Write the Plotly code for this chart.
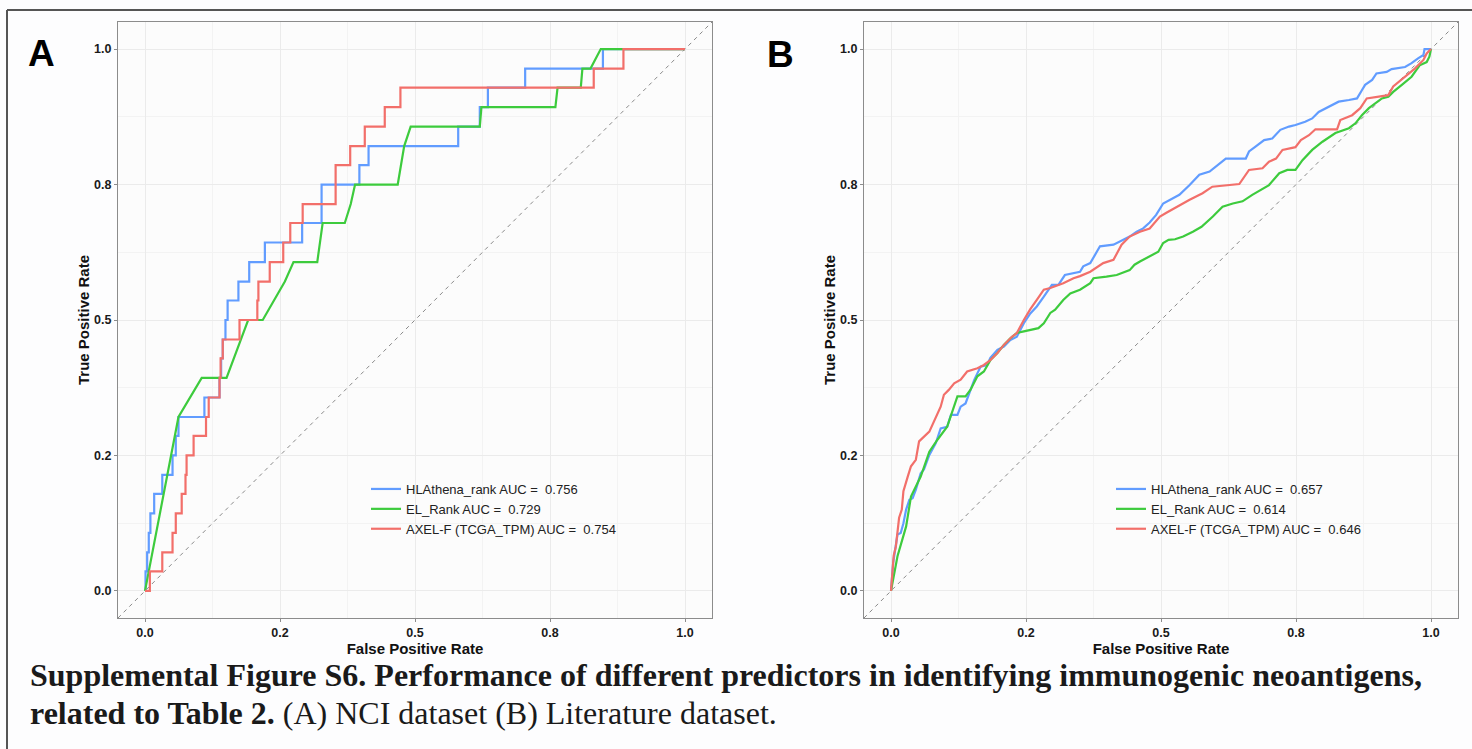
import plotly.graph_objects as go

# ---------------- data ----------------
series_names = ["HLAthena_rank", "EL_Rank", "AXEL-F (TCGA_TPM)"]
auc_a = ["0.756", "0.729", "0.754"]
auc_b = ["0.657", "0.614", "0.646"]
colors = ["#619CFF", "#3DCB3D", "#F26F6A"]

tick_vals = [0, 0.25, 0.5, 0.75, 1.0]
tick_text = ["0.0", "0.2", "0.5", "0.8", "1.0"]

# Panel A (NCI dataset)
A_hla_fpr = [0, 0.001, 0.004, 0.007, 0.010, 0.017, 0.032, 0.051, 0.057, 0.062, 0.110, 0.138, 0.141, 0.144,
             0.149, 0.153, 0.173, 0.193, 0.222, 0.291, 0.327, 0.397, 0.414, 0.580, 0.620, 0.635, 0.704, 0.848, 1.0]
A_hla_tpr = [0, 0.036, 0.071, 0.107, 0.143, 0.179, 0.214, 0.250, 0.286, 0.321, 0.357, 0.393, 0.429, 0.464,
             0.500, 0.536, 0.571, 0.607, 0.643, 0.679, 0.750, 0.786, 0.821, 0.857, 0.893, 0.929, 0.964, 1.0, 1.0]

A_el_fpr = [0, 0.062, 0.105, 0.151, 0.191, 0.218, 0.259, 0.275, 0.319, 0.329, 0.370, 0.381, 0.389, 0.468,
            0.480, 0.492, 0.620, 0.623, 0.760, 0.764, 0.807, 0.810, 0.825, 0.844, 1.0]
A_el_tpr = [0, 0.321, 0.393, 0.393, 0.500, 0.500, 0.571, 0.607, 0.607, 0.679, 0.679, 0.714, 0.750, 0.750,
            0.821, 0.857, 0.857, 0.893, 0.893, 0.929, 0.929, 0.964, 0.964, 1.0, 1.0]

A_axel_fpr = [0, 0.009, 0.032, 0.051, 0.057, 0.068, 0.075, 0.077, 0.090, 0.113, 0.118, 0.138, 0.140, 0.144,
              0.175, 0.208, 0.210, 0.231, 0.256, 0.269, 0.292, 0.353, 0.380, 0.407, 0.444, 0.473, 0.831, 0.886, 1.0]
A_axel_tpr = [0, 0.036, 0.071, 0.107, 0.143, 0.179, 0.214, 0.250, 0.286, 0.321, 0.357, 0.393, 0.429, 0.464,
              0.500, 0.536, 0.571, 0.607, 0.643, 0.679, 0.714, 0.786, 0.821, 0.857, 0.893, 0.929, 0.964, 1.0, 1.0]

# Panel B (Literature dataset)
B_hla_fpr = [0, 0.004, 0.012, 0.018, 0.023, 0.028, 0.034, 0.040, 0.046, 0.055,
             0.061, 0.071, 0.083, 0.092, 0.104, 0.111, 0.123, 0.129, 0.138, 0.144,
             0.154, 0.166, 0.178, 0.184, 0.197, 0.209, 0.221, 0.233, 0.246, 0.258,
             0.270, 0.283, 0.298, 0.310, 0.322, 0.350, 0.356, 0.369, 0.381, 0.387,
             0.412, 0.424, 0.433, 0.442, 0.455, 0.467, 0.479, 0.491, 0.504, 0.516,
             0.534, 0.553, 0.571, 0.590, 0.602, 0.620, 0.657, 0.663, 0.675, 0.691,
             0.706, 0.721, 0.737, 0.749, 0.767, 0.780, 0.792, 0.810, 0.829, 0.848,
             0.863, 0.872, 0.878, 0.891, 0.899, 0.918, 0.927, 0.952, 0.964, 0.976,
             0.986, 0.988, 1.0]
B_hla_tpr = [0, 0.052, 0.104, 0.107, 0.125, 0.150, 0.168, 0.171, 0.187, 0.217,
             0.224, 0.251, 0.273, 0.300, 0.303, 0.325, 0.325, 0.340, 0.346, 0.362,
             0.389, 0.414, 0.417, 0.430, 0.445, 0.451, 0.463, 0.469, 0.494, 0.512,
             0.525, 0.543, 0.565, 0.565, 0.583, 0.589, 0.599, 0.605, 0.626, 0.636,
             0.639, 0.645, 0.648, 0.654, 0.663, 0.669, 0.680, 0.694, 0.715, 0.722,
             0.731, 0.749, 0.768, 0.774, 0.783, 0.798, 0.798, 0.811, 0.820, 0.832,
             0.835, 0.851, 0.857, 0.860, 0.866, 0.872, 0.884, 0.894, 0.903, 0.906,
             0.909, 0.924, 0.934, 0.943, 0.955, 0.958, 0.963, 0.967, 0.974, 0.983,
             0.989, 1.0, 1.0]

B_el_fpr = [0, 0.012, 0.028, 0.037, 0.055, 0.071, 0.086, 0.104, 0.123, 0.138,
            0.147, 0.160, 0.172, 0.184, 0.197, 0.209, 0.221, 0.233, 0.246, 0.261,
            0.273, 0.283, 0.295, 0.304, 0.319, 0.332, 0.350, 0.369, 0.375, 0.399,
            0.418, 0.442, 0.451, 0.461, 0.479, 0.495, 0.504, 0.514, 0.526, 0.541,
            0.559, 0.575, 0.596, 0.614, 0.633, 0.651, 0.669, 0.688, 0.700, 0.719,
            0.734, 0.749, 0.762, 0.780, 0.799, 0.823, 0.848, 0.860, 0.872, 0.885,
            0.909, 0.921, 0.930, 0.946, 0.964, 0.979, 0.992, 0.997, 1.0]
B_el_tpr = [0, 0.064, 0.119, 0.174, 0.211, 0.257, 0.279, 0.303, 0.359, 0.359,
            0.371, 0.396, 0.405, 0.426, 0.439, 0.454, 0.466, 0.476, 0.479, 0.482,
            0.485, 0.494, 0.513, 0.519, 0.537, 0.549, 0.556, 0.568, 0.577, 0.580,
            0.583, 0.592, 0.602, 0.608, 0.617, 0.626, 0.642, 0.648, 0.649, 0.654,
            0.663, 0.672, 0.691, 0.709, 0.715, 0.719, 0.731, 0.743, 0.749, 0.771,
            0.777, 0.777, 0.795, 0.814, 0.829, 0.845, 0.854, 0.863, 0.878, 0.891,
            0.909, 0.912, 0.921, 0.934, 0.949, 0.970, 0.976, 0.986, 1.0]

B_axel_fpr = [0, 0.003, 0.005, 0.009, 0.012, 0.015, 0.020, 0.023, 0.031, 0.037,
              0.046, 0.052, 0.071, 0.077, 0.086, 0.092, 0.098, 0.107, 0.117, 0.129,
              0.141, 0.160, 0.172, 0.184, 0.197, 0.209, 0.224, 0.233, 0.246, 0.258,
              0.270, 0.283, 0.295, 0.319, 0.338, 0.350, 0.369, 0.384, 0.393, 0.412,
              0.418, 0.427, 0.442, 0.461, 0.479, 0.498, 0.510, 0.534, 0.553, 0.577,
              0.595, 0.645, 0.654, 0.663, 0.688, 0.700, 0.713, 0.725, 0.749, 0.759,
              0.774, 0.786, 0.826, 0.832, 0.854, 0.869, 0.881, 0.903, 0.921, 0.930,
              0.952, 0.970, 0.986, 0.992, 1.0]
B_axel_tpr = [0, 0.039, 0.065, 0.082, 0.107, 0.135, 0.150, 0.184, 0.211, 0.230,
              0.242, 0.276, 0.294, 0.307, 0.325, 0.340, 0.362, 0.371, 0.383, 0.390,
              0.405, 0.411, 0.417, 0.426, 0.439, 0.454, 0.469, 0.476, 0.500, 0.520,
              0.537, 0.556, 0.559, 0.568, 0.577, 0.581, 0.589, 0.599, 0.605, 0.611,
              0.623, 0.639, 0.654, 0.663, 0.669, 0.691, 0.698, 0.712, 0.722, 0.734,
              0.746, 0.751, 0.765, 0.777, 0.780, 0.792, 0.798, 0.814, 0.819, 0.832,
              0.841, 0.852, 0.852, 0.869, 0.878, 0.891, 0.909, 0.912, 0.915, 0.931,
              0.949, 0.964, 0.980, 0.992, 1.0]

diag = [-0.05, 1.05]

# ---------------- figure ----------------
W, H = 1472, 749
ML, MR, MT, MB = 118, 14, 22, 131          # plot area: x 118..1458, y 22..618
PW, PH = W - ML - MR, H - MT - MB
def px_x(p):
    return (p - ML) / PW
def px_y(p):
    return (H - MB - p) / PH

fig = go.Figure()

panels = [
    ("x", "y", "legend", auc_a,
     [(A_hla_fpr, A_hla_tpr, "hv"), (A_el_fpr, A_el_tpr, "linear"), (A_axel_fpr, A_axel_tpr, "hv")]),
    ("x2", "y2", "legend2", auc_b,
     [(B_hla_fpr, B_hla_tpr, "linear"), (B_el_fpr, B_el_tpr, "linear"), (B_axel_fpr, B_axel_tpr, "linear")]),
]

for xa, ya, leg, aucs, data in panels:
    fig.add_trace(go.Scatter(x=diag, y=diag, mode="lines", xaxis=xa, yaxis=ya,
                             line=dict(color="#8a8a8a", width=1, dash="4px,4px"),
                             showlegend=False, hoverinfo="skip"))
    for i, (fx, ty, shape) in enumerate(data):
        fig.add_trace(go.Scatter(
            x=fx, y=ty, mode="lines", xaxis=xa, yaxis=ya, legend=leg,
            name=f"{series_names[i]} AUC = \u00a0{aucs[i]}",
            line=dict(color=colors[i], width=2.2, shape=shape),
        ))

axis_common = dict(
    range=[-0.05, 1.05], tickmode="array", tickvals=tick_vals, ticktext=tick_text,
    showgrid=True, gridcolor="#ebebeb", gridwidth=1,
    minor=dict(tickmode="linear", tick0=0.125, dtick=0.25, showgrid=True, gridcolor="#f3f3f3", gridwidth=0.8),
    zeroline=False, showline=True, mirror=True, linecolor="#8c8c8c", linewidth=1,
    ticks="outside", ticklen=3, tickcolor="#8c8c8c", tickwidth=1,
    tickfont=dict(family="Liberation Sans, Arial", size=12.5, color="#1a1a1a", weight="bold"),
    title_font=dict(family="Liberation Sans, Arial", size=15, color="#111111", weight="bold"),
    automargin=False,
)

leg_common = dict(xanchor="left", yanchor="top", bgcolor="rgba(0,0,0,0)",
                  font=dict(family="Liberation Sans, Arial", size=13, color="#222222"),
                  tracegroupgap=0, itemwidth=30)
fig.update_layout(
    width=W, height=H,
    margin=dict(l=ML, r=MR, t=MT, b=MB),
    paper_bgcolor="#fdfdfe",
    plot_bgcolor="#fcfcfc",
    xaxis=dict(domain=[px_x(118), px_x(712)], anchor="y", title=dict(text="False Positive Rate", standoff=2), **axis_common),
    yaxis=dict(domain=[0, 1], anchor="x", title=dict(text="True Positive Rate", standoff=0), **axis_common),
    xaxis2=dict(domain=[px_x(864), px_x(1458)], anchor="y2", title=dict(text="False Positive Rate", standoff=2), **axis_common),
    yaxis2=dict(domain=[0, 1], anchor="x2", title=dict(text="True Positive Rate", standoff=0), **axis_common),
    legend=dict(x=px_x(366), y=px_y(474), **leg_common),
    legend2=dict(x=px_x(1111), y=px_y(474), **leg_common),
    showlegend=True,
)

# panel letters
fig.add_annotation(text="<b>A</b>", x=px_x(41), y=px_y(53), xref="paper", yref="paper",
                   xanchor="center", yanchor="middle",
                   showarrow=False, font=dict(family="Liberation Sans, Arial", size=37, color="#000000"))
fig.add_annotation(text="<b>B</b>", x=px_x(780), y=px_y(54), xref="paper", yref="paper",
                   xanchor="center", yanchor="middle",
                   showarrow=False, font=dict(family="Liberation Sans, Arial", size=37, color="#000000"))

# caption
cap_font = dict(family="Liberation Serif, Times New Roman, serif", size=32, color="#1a1a1a")
fig.add_annotation(text="<b>Supplemental Figure S6. Performance of different predictors in identifying immunogenic neoantigens,</b>",
                   x=px_x(28), y=px_y(675), xref="paper", yref="paper", xanchor="left", yanchor="middle",
                   showarrow=False, font=cap_font)
fig.add_annotation(text="<b>related to Table 2.</b> (A) NCI dataset (B) Literature dataset.",
                   x=px_x(28), y=px_y(713), xref="paper", yref="paper", xanchor="left", yanchor="middle",
                   showarrow=False, font=cap_font)

# outer frame lines
fig.add_shape(type="line", xref="paper", yref="paper", x0=px_x(7), x1=px_x(W), y0=px_y(10), y1=px_y(10),
              line=dict(color="#555555", width=2))
fig.add_shape(type="line", xref="paper", yref="paper", x0=px_x(7), x1=px_x(7), y0=px_y(10), y1=px_y(H),
              line=dict(color="#555555", width=2))

fig.write_html("out.html", config={"displayModeBar": False},
               post_script="document.body.style.margin='0';document.body.style.overflow='hidden';")
